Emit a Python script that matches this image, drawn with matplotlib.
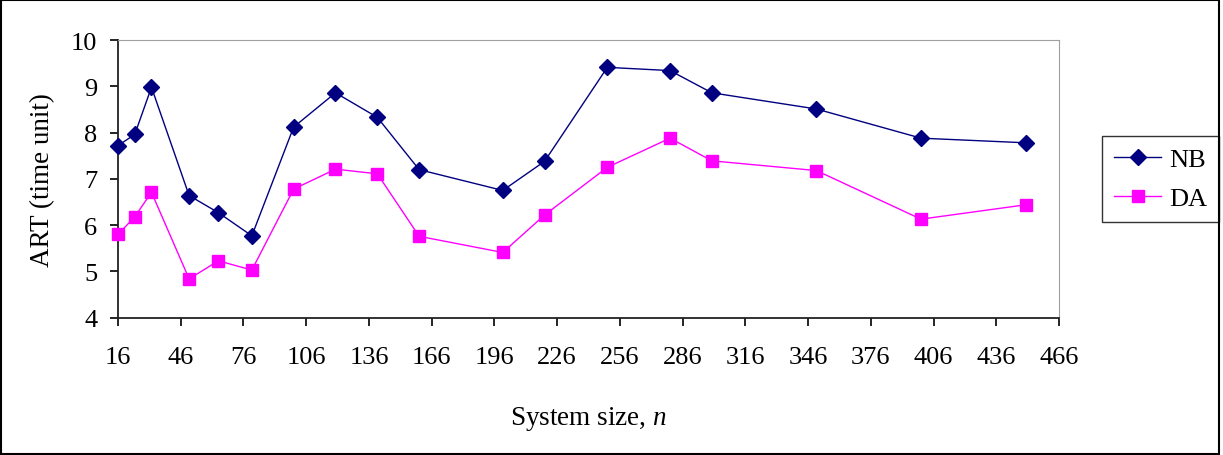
import matplotlib
matplotlib.use("Agg")
import matplotlib.pyplot as plt
from matplotlib.patches import Rectangle

plt.rcParams["font.family"] = ["Liberation Serif", "DejaVu Serif"]
plt.rcParams["mathtext.fontset"] = "custom"
plt.rcParams["mathtext.rm"] = "Liberation Serif"
plt.rcParams["mathtext.it"] = "Liberation Serif:italic"

# data
system_size = [16, 24, 32, 50, 64, 80, 100, 120, 140, 160, 200, 220, 250, 280, 300, 350, 400, 450]
art_nb = [7.72, 7.96, 8.98, 6.64, 6.27, 5.77, 8.12, 8.86, 8.33, 7.20,
          6.75, 7.38, 9.41, 9.34, 8.86, 8.51, 7.88, 7.78]
art_da = [5.80, 6.18, 6.71, 4.84, 5.23, 5.03, 6.78, 7.21, 7.11, 5.76,
          5.41, 6.22, 7.25, 7.88, 7.39, 7.18, 6.13, 6.44]
x_ticks = list(range(16, 467, 30))
y_ticks = [4, 5, 6, 7, 8, 9, 10]

fig = plt.figure(figsize=(12.23, 4.56), dpi=100)
ax = fig.add_axes([0.0965, 0.301, 0.7694, 0.609])

ax.plot(system_size, art_nb, color="#000080", marker="D", markersize=8,
        linewidth=1, label="NB", clip_on=False, zorder=3)
ax.plot(system_size, art_da, color="#FF00FF", marker="s", markersize=8.5,
        linewidth=1, label="DA", clip_on=False, zorder=3)

ax.set_xlim(16, 466)
ax.set_ylim(4, 10)
ax.set_xticks(x_ticks)
ax.set_yticks(y_ticks)
ax.tick_params(labelsize=19, direction="out", length=6, width=1.2)
ax.tick_params(axis="x", pad=14)
ax.tick_params(axis="y", pad=9)

for side in ["top", "right"]:
    ax.spines[side].set_color("#a0a0a0")
for side in ["left", "bottom"]:
    ax.spines[side].set_color("#222222")
    ax.spines[side].set_linewidth(1.3)

ax.set_ylabel("ART (time unit)", fontsize=19.5, labelpad=11)
ax.set_xlabel("System size, $\\it{n}$", fontsize=19.5, labelpad=26)

leg = ax.legend(loc="upper left", bbox_to_anchor=(0.901, 0.700),
                bbox_transform=fig.transFigure, fontsize=19, frameon=True,
                fancybox=False, edgecolor="black", handlelength=1.8,
                handletextpad=0.3, borderpad=0.45, labelspacing=0.6,
                borderaxespad=0)
leg.get_frame().set_linewidth(1)

# outer chart border
fig.patches.append(Rectangle((0.001, 0.002), 0.996, 0.995, transform=fig.transFigure,
                             fill=False, edgecolor="black", linewidth=1.5))

fig.savefig("out.png", dpi=100)
